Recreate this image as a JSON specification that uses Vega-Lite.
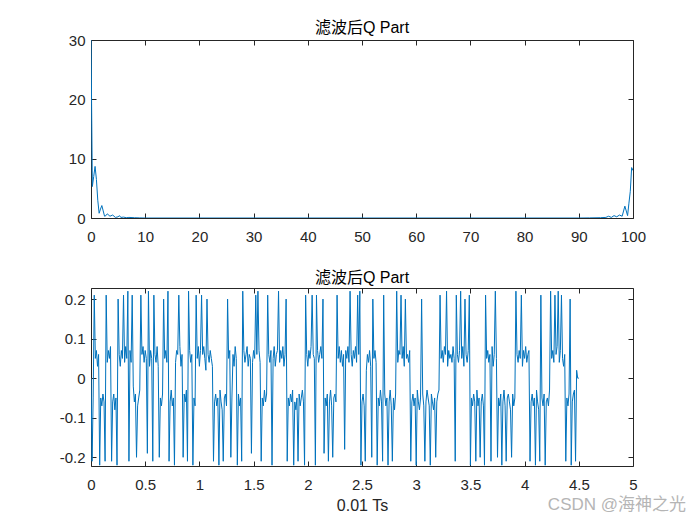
{
  "$schema": "https://vega.github.io/schema/vega-lite/v6.json",
  "background": "white",
  "padding": {"left": 58, "top": 19, "right": 5, "bottom": 5},
  "title": {"text": "CSDN @海神之光", "orient": "bottom", "anchor": "end", "color": "#b5b5b5", "fontSize": 17, "fontWeight": "normal", "font": "Liberation Sans, Noto Sans CJK SC", "offset": -17, "dx": 40},
  "spacing": 24,
  "config": {
    "locale": {"number": {"decimal": ".", "thousands": ",", "grouping": [3], "currency": ["$", ""], "minus": "-"}},
    "view": {"stroke": "#262626", "strokeWidth": 1},
    "font": "Liberation Sans, Noto Sans CJK SC",
    "axis": {"grid": false, "domain": false, "tickColor": "#262626", "tickSize": -5, "labelPadding": 11, "labelColor": "#262626", "labelFontSize": 15, "labelFont": "Liberation Sans", "titleFont": "Liberation Sans", "titleFontSize": 16, "titleFontWeight": "normal", "titleColor": "#262626", "labelFlush": false, "labelOverlap": false, "format": "~r"},
    "axisX": {"labelPadding": 16},
    "title": {"fontSize": 16, "fontWeight": "normal", "color": "#000000", "font": "Liberation Sans, Noto Sans CJK SC", "offset": 0}
  },
  "datasets": {
    "top": [
      {"f": 0, "a": 30}, {"f": 0.25, "a": 5.3}, {"f": 0.5, "a": 7}, {"f": 0.75, "a": 8.7}, {"f": 1.0, "a": 6.5}, {"f": 1.25, "a": 3}, {"f": 1.5, "a": 0.8}, {"f": 1.75, "a": 1.5}, {"f": 2.0, "a": 2.1}, {"f": 2.25, "a": 1.2}, {"f": 2.5, "a": 0.3}, {"f": 2.75, "a": 0.4}, {"f": 3.0, "a": 0.7}, {"f": 3.5, "a": 0.3}, {"f": 4.0, "a": 0.5}, {"f": 4.5, "a": 0.1}, {"f": 5.0, "a": 0.2}, {"f": 5.25, "a": 0.4}, {"f": 5.5, "a": 0.1}, {"f": 6, "a": 0.15}, {"f": 6.5, "a": 0.05}, {"f": 7, "a": 0.1}, {"f": 8, "a": 0.05}, {"f": 9, "a": 0.02}, {"f": 10, "a": 0},
      {"f": 90, "a": 0}, {"f": 92, "a": 0.02}, {"f": 94, "a": 0.05}, {"f": 95, "a": 0.1}, {"f": 95.5, "a": 0.3}, {"f": 96, "a": 0.1}, {"f": 96.5, "a": 0.4}, {"f": 97, "a": 0.2}, {"f": 97.5, "a": 0.5}, {"f": 98, "a": 0.3}, {"f": 98.5, "a": 2.0}, {"f": 99, "a": 0.4}, {"f": 99.25, "a": 2.5}, {"f": 99.5, "a": 4.5}, {"f": 99.75, "a": 8.5}, {"f": 100, "a": 8.0}
    ],
    "bottom": [
      {"t":0.00,"v":0},{"t":0.01,"v":-0.21},{"t":0.02,"v":-0.05},{"t":0.03,"v":0.21},{"t":0.04,"v":0.05},{"t":0.05,"v":0.07},{"t":0.06,"v":0.03},{"t":0.07,"v":0.06},{"t":0.08,"v":-0.22},{"t":0.09,"v":-0.05},
      {"t":0.10,"v":-0.07},{"t":0.11,"v":-0.04},{"t":0.12,"v":-0.06},{"t":0.13,"v":-0.21},{"t":0.14,"v":0.21},{"t":0.15,"v":0.04},{"t":0.16,"v":0.07},{"t":0.17,"v":0.05},{"t":0.18,"v":0.08},{"t":0.19,"v":-0.21},
      {"t":0.20,"v":-0.06},{"t":0.21,"v":-0.04},{"t":0.22,"v":-0.08},{"t":0.23,"v":-0.05},{"t":0.24,"v":-0.22},{"t":0.25,"v":0.2},{"t":0.26,"v":0.06},{"t":0.27,"v":0.03},{"t":0.28,"v":0.07},{"t":0.29,"v":0.05},
      {"t":0.30,"v":0.21},{"t":0.31,"v":0.04},{"t":0.32,"v":0.08},{"t":0.33,"v":0.05},{"t":0.34,"v":0.22},{"t":0.35,"v":-0.21},{"t":0.36,"v":0.07},{"t":0.37,"v":0.04},{"t":0.38,"v":0.21},{"t":0.39,"v":-0.02},
      {"t":0.40,"v":-0.06},{"t":0.41,"v":-0.04},{"t":0.42,"v":-0.2},{"t":0.43,"v":-0.07},{"t":0.44,"v":-0.05},{"t":0.45,"v":-0.03},{"t":0.46,"v":0.21},{"t":0.47,"v":0.06},{"t":0.48,"v":0.08},{"t":0.49,"v":0.04},
      {"t":0.50,"v":0.07},{"t":0.51,"v":0.05},{"t":0.52,"v":-0.19},{"t":0.53,"v":0.22},{"t":0.54,"v":0.03},{"t":0.55,"v":0.07},{"t":0.56,"v":0.05},{"t":0.57,"v":-0.21},{"t":0.58,"v":0.21},{"t":0.59,"v":0.06},
      {"t":0.60,"v":0.04},{"t":0.61,"v":0.08},{"t":0.62,"v":0.03},{"t":0.63,"v":-0.2},{"t":0.64,"v":-0.05},{"t":0.65,"v":-0.07},{"t":0.66,"v":-0.04},{"t":0.67,"v":0.2},{"t":0.68,"v":0.05},{"t":0.69,"v":0.07},
      {"t":0.70,"v":0.04},{"t":0.71,"v":0.22},{"t":0.72,"v":-0.21},{"t":0.73,"v":-0.06},{"t":0.74,"v":-0.03},{"t":0.75,"v":-0.07},{"t":0.76,"v":-0.05},{"t":0.77,"v":-0.22},{"t":0.78,"v":0.04},{"t":0.79,"v":0.07},
      {"t":0.80,"v":0.06},{"t":0.81,"v":0.21},{"t":0.82,"v":0.08},{"t":0.83,"v":0.03},{"t":0.84,"v":0.06},{"t":0.85,"v":-0.2},{"t":0.86,"v":-0.04},{"t":0.87,"v":-0.06},{"t":0.88,"v":-0.03},{"t":0.89,"v":-0.21},
      {"t":0.90,"v":0.22},{"t":0.91,"v":0.07},{"t":0.92,"v":0.04},{"t":0.93,"v":0.06},{"t":0.94,"v":-0.22},{"t":0.95,"v":-0.05},{"t":0.96,"v":-0.07},{"t":0.97,"v":0.21},{"t":0.98,"v":0.05},{"t":0.99,"v":0.08},
      {"t":1.00,"v":0.03},{"t":1.01,"v":0.07},{"t":1.02,"v":0.21},{"t":1.03,"v":0.06},{"t":1.04,"v":0.08},{"t":1.05,"v":0.05},{"t":1.06,"v":0.02},{"t":1.07,"v":0.2},{"t":1.08,"v":0.06},{"t":1.09,"v":0.04},
      {"t":1.10,"v":0.07},{"t":1.11,"v":0.05},{"t":1.12,"v":0.03},{"t":1.13,"v":-0.21},{"t":1.14,"v":-0.06},{"t":1.15,"v":-0.04},{"t":1.16,"v":-0.07},{"t":1.17,"v":-0.05},{"t":1.18,"v":-0.22},{"t":1.19,"v":-0.03},
      {"t":1.20,"v":-0.06},{"t":1.21,"v":-0.08},{"t":1.22,"v":-0.21},{"t":1.23,"v":-0.05},{"t":1.24,"v":-0.04},{"t":1.25,"v":-0.07},{"t":1.26,"v":0.2},{"t":1.27,"v":0.05},{"t":1.28,"v":0.07},{"t":1.29,"v":-0.2},
      {"t":1.30,"v":-0.05},{"t":1.31,"v":0.06},{"t":1.32,"v":0.03},{"t":1.33,"v":0.08},{"t":1.34,"v":0.05},{"t":1.35,"v":-0.22},{"t":1.36,"v":-0.04},{"t":1.37,"v":-0.07},{"t":1.38,"v":-0.05},{"t":1.39,"v":-0.21},
      {"t":1.40,"v":0.22},{"t":1.41,"v":0.07},{"t":1.42,"v":0.04},{"t":1.43,"v":0.06},{"t":1.44,"v":0.08},{"t":1.45,"v":0.03},{"t":1.46,"v":0.06},{"t":1.47,"v":0.05},{"t":1.48,"v":-0.19},{"t":1.49,"v":0.04},
      {"t":1.50,"v":0.07},{"t":1.51,"v":0.05},{"t":1.52,"v":0.21},{"t":1.53,"v":0.06},{"t":1.54,"v":0.22},{"t":1.55,"v":0.07},{"t":1.56,"v":0.04},{"t":1.57,"v":-0.21},{"t":1.58,"v":-0.05},{"t":1.59,"v":-0.07},
      {"t":1.60,"v":-0.03},{"t":1.61,"v":-0.06},{"t":1.62,"v":-0.04},{"t":1.63,"v":0.21},{"t":1.64,"v":0.06},{"t":1.65,"v":0.04},{"t":1.66,"v":0.07},{"t":1.67,"v":-0.22},{"t":1.68,"v":0.05},{"t":1.69,"v":0.08},
      {"t":1.70,"v":0.03},{"t":1.71,"v":0.06},{"t":1.72,"v":0.07},{"t":1.73,"v":0.22},{"t":1.74,"v":0.04},{"t":1.75,"v":0.07},{"t":1.76,"v":0.05},{"t":1.77,"v":0.08},{"t":1.78,"v":0.03},{"t":1.79,"v":0.06},
      {"t":1.80,"v":0.2},{"t":1.81,"v":-0.21},{"t":1.82,"v":-0.05},{"t":1.83,"v":-0.07},{"t":1.84,"v":-0.04},{"t":1.85,"v":-0.06},{"t":1.86,"v":-0.03},{"t":1.87,"v":-0.22},{"t":1.88,"v":-0.06},{"t":1.89,"v":-0.08},
      {"t":1.90,"v":-0.05},{"t":1.91,"v":-0.21},{"t":1.92,"v":-0.04},{"t":1.93,"v":-0.07},{"t":1.94,"v":-0.05},{"t":1.95,"v":-0.03},{"t":1.96,"v":-0.06},{"t":1.97,"v":-0.22},{"t":1.98,"v":0.21},{"t":1.99,"v":0.06},
      {"t":2.00,"v":0.03},{"t":2.01,"v":0.07},{"t":2.02,"v":0.05},{"t":2.03,"v":0.08},{"t":2.04,"v":0.21},{"t":2.05,"v":0.06},{"t":2.06,"v":0.05},{"t":2.07,"v":-0.22},{"t":2.08,"v":0.21},{"t":2.09,"v":0.07},
      {"t":2.10,"v":0.04},{"t":2.11,"v":0.06},{"t":2.12,"v":0.08},{"t":2.13,"v":0.05},{"t":2.14,"v":0.2},{"t":2.15,"v":-0.19},{"t":2.16,"v":-0.05},{"t":2.17,"v":-0.07},{"t":2.18,"v":-0.04},{"t":2.19,"v":-0.21},
      {"t":2.20,"v":-0.06},{"t":2.21,"v":-0.03},{"t":2.22,"v":-0.07},{"t":2.23,"v":-0.2},{"t":2.24,"v":-0.05},{"t":2.25,"v":-0.04},{"t":2.26,"v":-0.06},{"t":2.27,"v":0.21},{"t":2.28,"v":0.05},{"t":2.29,"v":0.08},
      {"t":2.30,"v":0.04},{"t":2.31,"v":0.07},{"t":2.32,"v":0.03},{"t":2.33,"v":0.06},{"t":2.34,"v":-0.18},{"t":2.35,"v":0.07},{"t":2.36,"v":0.05},{"t":2.37,"v":0.08},{"t":2.38,"v":0.04},{"t":2.39,"v":0.22},
      {"t":2.40,"v":0.06},{"t":2.41,"v":0.03},{"t":2.42,"v":0.07},{"t":2.43,"v":0.05},{"t":2.44,"v":0.08},{"t":2.45,"v":0.04},{"t":2.46,"v":0.21},{"t":2.47,"v":0.06},{"t":2.48,"v":0.22},{"t":2.49,"v":-0.22},
      {"t":2.50,"v":-0.06},{"t":2.51,"v":-0.04},{"t":2.52,"v":-0.07},{"t":2.53,"v":-0.21},{"t":2.54,"v":0.02},{"t":2.55,"v":0.06},{"t":2.56,"v":0.04},{"t":2.57,"v":0.07},{"t":2.58,"v":0.03},{"t":2.59,"v":-0.2},
      {"t":2.60,"v":0.2},{"t":2.61,"v":0.05},{"t":2.62,"v":0.07},{"t":2.63,"v":0.04},{"t":2.64,"v":-0.22},{"t":2.65,"v":-0.05},{"t":2.66,"v":-0.07},{"t":2.67,"v":-0.03},{"t":2.68,"v":-0.06},{"t":2.69,"v":-0.21},
      {"t":2.70,"v":0.21},{"t":2.71,"v":-0.04},{"t":2.72,"v":-0.07},{"t":2.73,"v":-0.05},{"t":2.74,"v":-0.22},{"t":2.75,"v":-0.06},{"t":2.76,"v":-0.03},{"t":2.77,"v":-0.07},{"t":2.78,"v":-0.21},{"t":2.79,"v":-0.05},
      {"t":2.80,"v":-0.08},{"t":2.81,"v":-0.04},{"t":2.82,"v":0.22},{"t":2.83,"v":0.04},{"t":2.84,"v":0.07},{"t":2.85,"v":0.06},{"t":2.86,"v":0.21},{"t":2.87,"v":0.05},{"t":2.88,"v":0.08},{"t":2.89,"v":0.03},
      {"t":2.90,"v":0.2},{"t":2.91,"v":0.05},{"t":2.92,"v":0.06},{"t":2.93,"v":0.04},{"t":2.94,"v":0.07},{"t":2.95,"v":-0.21},{"t":2.96,"v":-0.06},{"t":2.97,"v":-0.04},{"t":2.98,"v":-0.07},{"t":2.99,"v":-0.05},
      {"t":3.00,"v":-0.22},{"t":3.01,"v":-0.03},{"t":3.02,"v":-0.06},{"t":3.03,"v":-0.08},{"t":3.04,"v":-0.05},{"t":3.05,"v":0.2},{"t":3.06,"v":-0.04},{"t":3.07,"v":-0.07},{"t":3.08,"v":-0.21},{"t":3.09,"v":-0.06},
      {"t":3.10,"v":-0.03},{"t":3.11,"v":-0.05},{"t":3.12,"v":-0.07},{"t":3.13,"v":-0.22},{"t":3.14,"v":-0.04},{"t":3.15,"v":-0.06},{"t":3.16,"v":-0.08},{"t":3.17,"v":-0.05},{"t":3.18,"v":-0.2},{"t":3.19,"v":-0.06},
      {"t":3.20,"v":-0.04},{"t":3.21,"v":-0.03},{"t":3.22,"v":0.21},{"t":3.23,"v":0.05},{"t":3.24,"v":0.07},{"t":3.25,"v":0.04},{"t":3.26,"v":0.08},{"t":3.27,"v":0.06},{"t":3.28,"v":0.22},{"t":3.29,"v":0.03},
      {"t":3.30,"v":0.07},{"t":3.31,"v":0.05},{"t":3.32,"v":0.06},{"t":3.33,"v":0.04},{"t":3.34,"v":0.08},{"t":3.35,"v":0.05},{"t":3.36,"v":-0.21},{"t":3.37,"v":0.21},{"t":3.38,"v":0.06},{"t":3.39,"v":0.04},
      {"t":3.40,"v":0.07},{"t":3.41,"v":0.22},{"t":3.42,"v":0.05},{"t":3.43,"v":0.08},{"t":3.44,"v":0.03},{"t":3.45,"v":0.2},{"t":3.46,"v":0.06},{"t":3.47,"v":0.04},{"t":3.48,"v":0.07},{"t":3.49,"v":0.21},
      {"t":3.50,"v":-0.22},{"t":3.51,"v":-0.05},{"t":3.52,"v":-0.07},{"t":3.53,"v":-0.04},{"t":3.54,"v":-0.06},{"t":3.55,"v":-0.21},{"t":3.56,"v":-0.03},{"t":3.57,"v":-0.07},{"t":3.58,"v":-0.05},{"t":3.59,"v":-0.2},
      {"t":3.60,"v":-0.06},{"t":3.61,"v":-0.04},{"t":3.62,"v":-0.07},{"t":3.63,"v":-0.22},{"t":3.64,"v":0.21},{"t":3.65,"v":0.05},{"t":3.66,"v":0.07},{"t":3.67,"v":0.04},{"t":3.68,"v":0.06},{"t":3.69,"v":-0.21},
      {"t":3.70,"v":0.08},{"t":3.71,"v":0.03},{"t":3.72,"v":0.06},{"t":3.73,"v":0.22},{"t":3.74,"v":0.05},{"t":3.75,"v":-0.2},{"t":3.76,"v":-0.05},{"t":3.77,"v":-0.07},{"t":3.78,"v":-0.04},{"t":3.79,"v":-0.22},
      {"t":3.80,"v":-0.06},{"t":3.81,"v":-0.03},{"t":3.82,"v":-0.07},{"t":3.83,"v":-0.21},{"t":3.84,"v":-0.05},{"t":3.85,"v":-0.04},{"t":3.86,"v":-0.06},{"t":3.87,"v":-0.08},{"t":3.88,"v":-0.2},{"t":3.89,"v":-0.04},
      {"t":3.90,"v":-0.07},{"t":3.91,"v":-0.05},{"t":3.92,"v":0.22},{"t":3.93,"v":0.06},{"t":3.94,"v":0.04},{"t":3.95,"v":0.07},{"t":3.96,"v":0.05},{"t":3.97,"v":0.21},{"t":3.98,"v":0.03},{"t":3.99,"v":0.07},
      {"t":4.00,"v":0.05},{"t":4.01,"v":0.08},{"t":4.02,"v":0.04},{"t":4.03,"v":0.06},{"t":4.04,"v":0.07},{"t":4.05,"v":-0.21},{"t":4.06,"v":-0.06},{"t":4.07,"v":-0.04},{"t":4.08,"v":-0.07},{"t":4.09,"v":-0.05},
      {"t":4.10,"v":-0.22},{"t":4.11,"v":-0.03},{"t":4.12,"v":-0.06},{"t":4.13,"v":-0.08},{"t":4.14,"v":-0.21},{"t":4.15,"v":0.21},{"t":4.16,"v":-0.05},{"t":4.17,"v":-0.07},{"t":4.18,"v":-0.04},{"t":4.19,"v":-0.22},
      {"t":4.20,"v":-0.06},{"t":4.21,"v":-0.05},{"t":4.22,"v":-0.07},{"t":4.23,"v":-0.03},{"t":4.24,"v":0.22},{"t":4.25,"v":0.05},{"t":4.26,"v":0.07},{"t":4.27,"v":0.04},{"t":4.28,"v":0.21},{"t":4.29,"v":0.06},
      {"t":4.30,"v":0.08},{"t":4.31,"v":0.22},{"t":4.32,"v":0.04},{"t":4.33,"v":0.07},{"t":4.34,"v":0.21},{"t":4.35,"v":0.05},{"t":4.36,"v":0.03},{"t":4.37,"v":0.06},{"t":4.38,"v":-0.21},{"t":4.39,"v":-0.05},
      {"t":4.40,"v":-0.07},{"t":4.41,"v":-0.04},{"t":4.42,"v":0.2},{"t":4.43,"v":-0.22},{"t":4.44,"v":-0.06},{"t":4.45,"v":-0.04},{"t":4.46,"v":-0.03},{"t":4.47,"v":-0.21},{"t":4.48,"v":0.02},{"t":4.49,"v":0},
      {"t":4.50,"v":0}
    ]
  },
  "vconcat": [
    {
      "width": 542,
      "height": 178,
      "title": {"text": "滤波后Q Part", "offset": -3},
      "data": {"name": "top"},
      "layer": [
        {
          "mark": {"type": "line", "color": "#0072BD", "strokeWidth": 1, "clip": true},
          "encoding": {
            "x": {"field": "f", "type": "quantitative", "scale": {"domain": [0, 100], "nice": false, "zero": false}, "axis": {"values": [0, 10, 20, 30, 40, 50, 60, 70, 80, 90, 100], "title": null}},
            "y": {"field": "a", "type": "quantitative", "scale": {"domain": [0, 30], "nice": false}, "axis": {"values": [0, 10, 20, 30], "title": null}}
          }
        },
        {
          "mark": {"type": "line", "opacity": 0},
          "encoding": {
            "x": {"field": "f", "type": "quantitative", "axis": {"orient": "top", "labels": false, "values": [0, 10, 20, 30, 40, 50, 60, 70, 80, 90, 100], "title": null}},
            "y": {"field": "a", "type": "quantitative", "axis": {"orient": "right", "labels": false, "values": [0, 10, 20, 30], "title": null}}
          }
        }
      ],
      "resolve": {"axis": {"x": "independent", "y": "independent"}}
    },
    {
      "width": 542,
      "height": 178,
      "title": {"text": "滤波后Q Part", "offset": 2},
      "data": {"name": "bottom"},
      "layer": [
        {
          "mark": {"type": "line", "color": "#0072BD", "strokeWidth": 1, "clip": true},
          "encoding": {
            "x": {"field": "t", "type": "quantitative", "scale": {"domain": [0, 5], "nice": false, "zero": false}, "axis": {"values": [0, 0.5, 1, 1.5, 2, 2.5, 3, 3.5, 4, 4.5, 5], "title": "0.01 Ts", "titlePadding": 5}},
            "y": {"field": "v", "type": "quantitative", "scale": {"domain": [-0.222, 0.228], "nice": false, "zero": false}, "axis": {"values": [-0.2, -0.1, 0, 0.1, 0.2], "title": null}}
          }
        },
        {
          "mark": {"type": "line", "opacity": 0},
          "encoding": {
            "x": {"field": "t", "type": "quantitative", "axis": {"orient": "top", "labels": false, "values": [0, 0.5, 1, 1.5, 2, 2.5, 3, 3.5, 4, 4.5, 5], "title": null}},
            "y": {"field": "v", "type": "quantitative", "axis": {"orient": "right", "labels": false, "values": [-0.2, -0.1, 0, 0.1, 0.2], "title": null}}
          }
        }
      ],
      "resolve": {"axis": {"x": "independent", "y": "independent"}}
    }
  ]
}
